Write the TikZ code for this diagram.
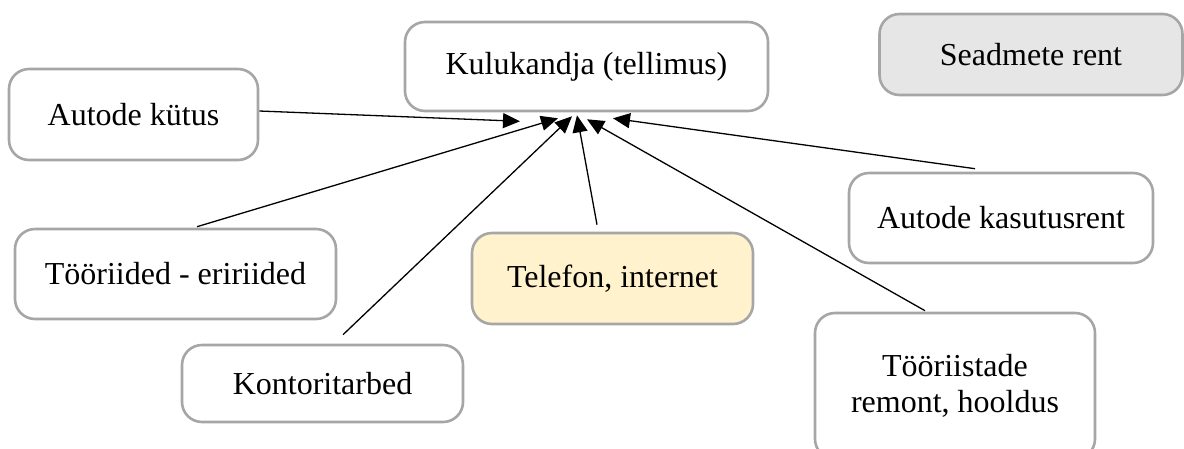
\documentclass[tikz,border=0pt]{standalone}
\usepackage{fontspec}
\setmainfont{Liberation Serif}
\usetikzlibrary{arrows.meta,calc}
\definecolor{bordergray}{HTML}{A6A6A6}
\definecolor{boxgray}{HTML}{E6E6E6}
\definecolor{boxyellow}{HTML}{FFF2CC}
\tikzset{
  box/.style={draw=bordergray, line width=2.6pt, rounded corners=20pt, fill=white,
    inner sep=0pt, align=center, font=\fontsize{32}{36}\selectfont},
  arr/.style={draw=black, line width=1.3pt, -{Triangle[length=17pt,width=15pt]}}
}
\begin{document}
\begin{tikzpicture}[x=1pt,y=-1pt]
\useasboundingbox (0,0) rectangle (1184,448);
\node[box, minimum width=363pt, minimum height=89pt] (kul) at (586.5,66.5) {Kulukandja (tellimus)};
\node[box, fill=boxgray, minimum width=303pt, minimum height=81pt] (sea) at (1031,54.5) {Seadmete rent};
\node[box, minimum width=249pt, minimum height=91pt] (kut) at (133.5,114.5) {Autode kütus};
\node[box, minimum width=304pt, minimum height=90pt] (kas) at (1001,218) {Autode kasutusrent};
\node[box, minimum width=321pt, minimum height=90pt] (tri) at (175.5,274) {Tööriided - eririided};
\node[box, fill=boxyellow, minimum width=281pt, minimum height=91pt] (tel) at (612.5,278.5) {Telefon, internet};
\node[box, minimum width=281pt, minimum height=77pt] (kon) at (322.5,383.5) {Kontoritarbed};
\node[box, minimum width=280pt, minimum height=146pt] (too) at (955,386) {Tööriistade\\remont, hooldus};

\draw[arr] ($(kut.east)+(0,-3.5)$) -- ($(kul.south)+(-66.5,9)$);
\draw[arr] ($(tri.north)+(21.5,-1)$) -- ($(kul.south)+(-28.5,6)$);
\draw[arr] ($(kon.north)+(20.5,-9)$) -- ($(kul.south)+(-14.5,4)$);
\draw[arr] ($(tel.north)+(-15.5,-7)$) -- ($(kul.south)+(-9.5,3)$);
\draw[arr] ($(too.north)+(-30,-1)$) -- ($(kul.south)+(0.5,7)$);
\draw[arr] ($(kas.north)+(-26,-3)$) -- ($(kul.south)+(26.5,6)$);
\end{tikzpicture}
\end{document}
